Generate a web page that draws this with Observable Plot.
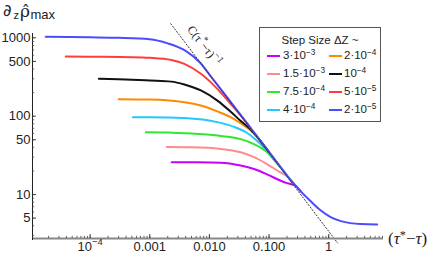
<!DOCTYPE html>
<html><head><meta charset="utf-8">
<script src="https://cdn.jsdelivr.net/npm/d3@7"></script>
<script src="https://cdn.jsdelivr.net/npm/@observablehq/plot@0.6"></script>
<style>
body{margin:0;background:#fff;}
#wrap{position:relative;width:436px;height:258px;font-family:"Liberation Sans",Arial,sans-serif;color:#222;}
#wrap svg{position:absolute;left:0;top:0;overflow:visible;}
.ov{position:absolute;white-space:nowrap;line-height:1;}
#legend{position:absolute;left:259px;top:27px;width:122px;height:95px;border:1.3px solid #555;background:#fff;box-sizing:border-box;}
.lg-title{position:absolute;left:0;width:100%;top:6px;text-align:center;font-size:11.5px;}
.lg-item{position:absolute;font-size:11.5px;line-height:1;}
.lg-sw{position:absolute;width:13px;height:2px;}
sup{font-size:0.72em;vertical-align:0;position:relative;top:-0.45em;}
</style></head><body><div id="wrap"></div>
<script>
// ---- data ----
const stepSizes = ["3·10^{−3}","1.5·10^{−3}","7.5·10^{−4}","4·10^{−4}","2·10^{−4}","10^{−4}","5·10^{−5}","2·10^{−5}"];
const colors = ["#c800ff","#ff8c8c","#2ee82e","#22c8ff","#ff8a00","#111111","#ff3c3c","#4b4bff"];

const s3e3 = [[0.00233,25.9],[0.005,25.8],[0.0155,25.5],[0.0335,23.5],[0.056,21.2],[0.094,18],[0.157,15],[0.2,14],[0.246,13.4],[0.28,12.9],[0.34,11.0]];
const s15e4 = [[0.00193,40.3],[0.005,40],[0.0155,38.2],[0.0335,34.6],[0.056,30],[0.094,24.3],[0.157,19],[0.204,17],[0.28,12.9],[0.34,11.0]];
const s75e5 = [[0.00086,62.5],[0.002,62],[0.005,60],[0.0155,56],[0.0335,51],[0.056,44],[0.094,34.5],[0.13,26],[0.163,21.3],[0.2,17.5],[0.28,12.9]];
const s4e4 = [[0.00052,97],[0.001,97],[0.0038,94.5],[0.0136,84],[0.026,73],[0.043,61],[0.064,48],[0.094,35.5],[0.118,28.8],[0.15,23.2],[0.2,17.5]];
const s2e4 = [[0.0003,165],[0.001,163],[0.0038,151],[0.0072,137],[0.0136,115],[0.026,92],[0.038,76],[0.05,65],[0.064,53.5],[0.08,43],[0.1,34.8],[0.15,23.2]];
const s1e4 = [[0.00014,300],[0.0005,292],[0.001,285],[0.0023,276],[0.0038,254],[0.0072,213],[0.0136,158],[0.023,113],[0.034,86],[0.045,72],[0.07,49.5],[0.1,34.8]];
const s5e5 = [[0.000039,577],[0.0001,573],[0.0005,566],[0.001,556],[0.0023,522],[0.0038,466],[0.0072,348],[0.0105,272],[0.0155,200],[0.023,142],[0.03,113],[0.05,69.5]];
const s2e5 = [[0.000018,1030],[0.0001,1015],[0.0003,1000],[0.001,960],[0.002,850],[0.004,680],[0.007,480],[0.01,340],[0.02,172],[0.03,115],[0.05,69.5],[0.07,50],[0.1,35],[0.15,23.3],[0.2,17.5],[0.28,12.9],[0.34,11.0],[0.5,8.2],[0.73,6.3],[1.08,5.15],[1.6,4.58],[2.3,4.32],[3.4,4.2],[6.5,4.16]];
const seriesData = [s3e3,s15e4,s75e5,s4e4,s2e4,s1e4,s5e5,s2e5];

// reference line C/(tau*-tau), endpoints
const refLine = [[0.00225,1510],[1.41,2.41]];
const refLabel = [[0.00543,626]];
const refText = "C(τ^{*}−τ)^{−1}";

const xTickValues = [1e-4,1e-3,1e-2,1e-1,1];
const xTickLabels = ["10^{−4}","0.001","0.010","0.100","1"];
const yTickValues = [5,10,50,100,500,1000];
const yTickLabels = ["5","10","50","100","500","1000"];

const xDomain = [1.08e-5, 8.3];
const yDomain = [2.75, 1135];

// ---- build ----
const rows = seriesData.flatMap((s,i)=>s.map(([x,y])=>({x,y,series:stepSizes[i]})));
const W=436,H=258,mT=33,mB=20,mL=32,mR=53;
const fh = H-mT-mB, fw = W-mL-mR;
const xMinor = d3.scaleLog().domain(xDomain).ticks();
const yMinor = d3.scaleLog().domain(yDomain).ticks();

const chart = Plot.plot({
  width:W, height:H, marginTop:mT, marginBottom:mB, marginLeft:mL, marginRight:mR,
  x:{type:"log", domain:xDomain, axis:null},
  y:{type:"log", domain:yDomain, axis:null},
  color:{domain:stepSizes, range:colors},
  style:{fontFamily:"Liberation Sans, Arial, sans-serif", fontSize:"13px", background:"white", overflow:"visible", color:"#222"},
  marks:[
    Plot.line(rows,{x:"x",y:"y",z:"series",stroke:"series",strokeWidth:2,curve:"monotone-x"}),
    Plot.line(refLine,{x:d=>d[0],y:d=>d[1],stroke:"#333",strokeWidth:1,strokeDasharray:"1.2,2"}),
    Plot.text(refLabel,{x:d=>d[0],y:d=>d[1],text:()=>refText,rotate:52.6,dx:10.5,dy:-8,fontSize:12,fontFamily:"Liberation Serif, serif",fill:"#222"}),
    // axes lines
    Plot.ruleY([yDomain[0]],{stroke:"#888",strokeWidth:1.8}),
    Plot.ruleX([xDomain[0]],{stroke:"#222",strokeWidth:1,insetBottom:-2}),
    // x ticks
    Plot.ruleX(xMinor,{stroke:"#444",strokeWidth:0.8,insetTop:fh-2.2}),
    Plot.ruleX(xTickValues,{stroke:"#333",strokeWidth:0.9,insetTop:fh-4}),
    Plot.text(xTickValues,{x:d=>d,text:(d,i)=>xTickLabels[i],frameAnchor:"bottom",dy:12,fontSize:13,fill:"#222"}),
    // y ticks
    Plot.ruleY(yMinor,{stroke:"#444",strokeWidth:0.8,insetRight:fw-2.2}),
    Plot.ruleY(yTickValues,{stroke:"#333",strokeWidth:0.9,insetRight:fw-4}),
    Plot.text(yTickValues,{y:d=>d,text:(d,i)=>yTickLabels[i],frameAnchor:"left",textAnchor:"end",dx:-2,fontSize:13,fill:"#222"})
  ]
});

// superscript post-processing "a^{b}c"
chart.querySelectorAll("text").forEach(t=>{
  const s = t.textContent;
  if(!s.includes("^{")) return;
  const fs = parseFloat(t.getAttribute("font-size")) || 13;
  const parts = s.split(/\^\{([^}]*)\}/);
  t.textContent = "";
  let shifted = false;
  parts.forEach((p,i)=>{
    const ts = document.createElementNS("http://www.w3.org/2000/svg","tspan");
    ts.textContent = p;
    if(i%2===1){ ts.setAttribute("dy", -fs*0.42); ts.setAttribute("font-size", fs*0.72); shifted = true; }
    else if(shifted){ ts.setAttribute("dy", fs*0.42); shifted=false; }
    t.appendChild(ts);
  });
});

const wrap = document.getElementById("wrap");
wrap.appendChild(chart);

const supHTML = s => s.replace(/\^\{([^}]*)\}/g,"<sup>$1</sup>");

// y title pieces
const titleParts = [
  {t:"∂", left:3, top:3, font:"'DejaVu Sans'", size:16.5},
  {t:"z", left:13.5, top:9.5, font:"'Liberation Sans'", size:11},
  {t:"ρ̂", left:20, top:2.5, font:"'DejaVu Serif'", size:17},
  {t:"max", left:30.5, top:7.5, font:"'Liberation Sans'", size:13}
];
titleParts.forEach(p=>{
  const d = document.createElement("div");
  d.className="ov";
  d.style.left=p.left+"px"; d.style.top=p.top+"px";
  d.style.fontFamily=p.font; d.style.fontSize=p.size+"px";
  d.textContent=p.t;
  wrap.appendChild(d);
});

// x title
const xt = document.createElement("div");
xt.className="ov";
xt.style.left="388px"; xt.style.top="230px";
xt.style.fontFamily="'Liberation Serif',serif"; xt.style.fontSize="17px";
xt.innerHTML = '(<i>τ</i><sup>*</sup>−<i>τ</i>)';
wrap.appendChild(xt);

// legend
const lg = document.createElement("div");
lg.id="legend";
lg.innerHTML = '<div class="lg-title">Step Size ΔZ ~</div>';
const rowY=[28,46,64,82];
stepSizes.forEach((s,i)=>{
  const col = i<4?0:1, r = i%4;
  const sw = document.createElement("div");
  sw.className="lg-sw"; sw.style.background=colors[i];
  sw.style.left=(col?69:7)+"px"; sw.style.top=(rowY[r]-1)+"px";
  lg.appendChild(sw);
  const it = document.createElement("div");
  it.className="lg-item";
  it.style.left=(col?84:23)+"px"; it.style.top=(rowY[r]-6)+"px";
  it.innerHTML = supHTML(s);
  lg.appendChild(it);
});
wrap.appendChild(lg);
</script></body></html>
